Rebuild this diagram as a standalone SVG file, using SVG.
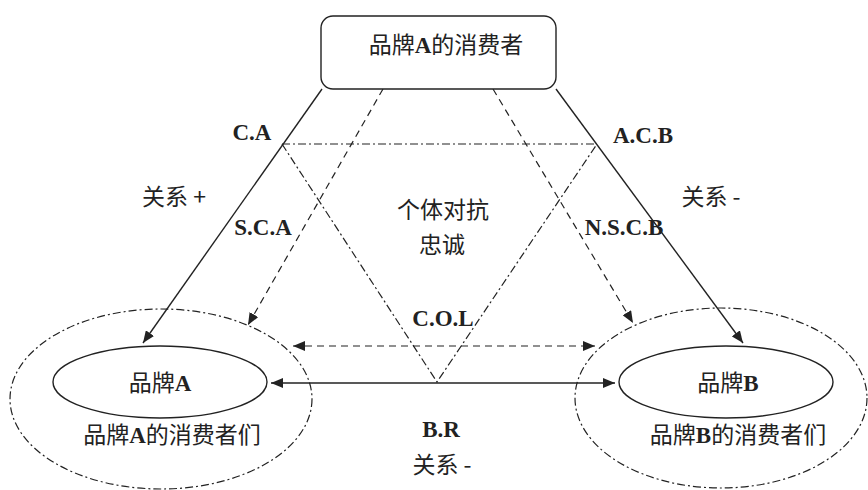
<svg xmlns="http://www.w3.org/2000/svg" width="868" height="490" viewBox="0 0 868 490">
<style>
text{font-family:"Liberation Serif","Noto Sans CJK SC",serif;font-size:23px;fill:#222}
.cn{font-family:"Noto Sans CJK SC","Liberation Serif",sans-serif;font-weight:normal}
.b{font-weight:bold;font-family:"Liberation Serif",serif}
.solid{stroke:#222;stroke-width:1.4;fill:none}
.dash{stroke:#222;stroke-width:1.2;fill:none;stroke-dasharray:7 5}
.dd{stroke:#222;stroke-width:1.2;fill:none;stroke-dasharray:8 3 2 3}
</style>
<defs>
<marker id="ah" viewBox="0 0 12 10" refX="12" refY="5" markerWidth="12" markerHeight="10" markerUnits="userSpaceOnUse" orient="auto-start-reverse">
<path d="M0,0 L12,5 L0,10 z" fill="#222"/>
</marker>
</defs>
<rect width="868" height="490" fill="#fff"/>
<g id="consumers-ring-A"><ellipse cx="161" cy="399" rx="151" ry="90" class="dd"/></g>
<g id="consumers-ring-B"><ellipse cx="721" cy="398" rx="146" ry="90" class="dd"/></g>
<g id="connectors">
<line x1="322" y1="89" x2="143" y2="343" class="solid" marker-end="url(#ah)"/>
<line x1="556" y1="89" x2="743" y2="343" class="solid" marker-end="url(#ah)"/>
<line x1="383" y1="89" x2="248" y2="325" class="dash" marker-end="url(#ah)"/>
<line x1="493" y1="89" x2="633" y2="323" class="dash" marker-end="url(#ah)"/>
<line x1="282" y1="144" x2="597" y2="144" class="dd"/>
<polyline points="282,144 437,382 597,144" class="dd"/>
<line x1="293" y1="346" x2="595" y2="346" class="dash" marker-start="url(#ah)" marker-end="url(#ah)"/>
<line x1="271" y1="383" x2="615" y2="383" class="solid" marker-start="url(#ah)" marker-end="url(#ah)"/>
</g>
<g id="top-node">
<rect x="321" y="16" width="235" height="73" rx="12" ry="12" fill="#fff" stroke="#222" stroke-width="1.4"/>
<text x="446" y="53" text-anchor="middle"><tspan class="cn">品牌</tspan><tspan class="b">A</tspan><tspan class="cn">的消费者</tspan></text>
</g>
<g id="brand-A">
<ellipse cx="160" cy="382" rx="107" ry="36" fill="#fff" stroke="#222" stroke-width="1.4"/>
<text x="160" y="391" text-anchor="middle"><tspan class="cn">品牌</tspan><tspan class="b">A</tspan></text>
<text x="172" y="443" text-anchor="middle"><tspan class="cn">品牌</tspan><tspan class="b">A</tspan><tspan class="cn">的消费者们</tspan></text>
</g>
<g id="brand-B">
<ellipse cx="726" cy="382" rx="107" ry="36" fill="#fff" stroke="#222" stroke-width="1.4"/>
<text x="728" y="391" text-anchor="middle"><tspan class="cn">品牌</tspan><tspan class="b">B</tspan></text>
<text x="738" y="443" text-anchor="middle"><tspan class="cn">品牌</tspan><tspan class="b">B</tspan><tspan class="cn">的消费者们</tspan></text>
</g>
<g id="labels">
<text x="252" y="140" text-anchor="middle" class="b">C.A</text>
<text x="643" y="143" text-anchor="middle" class="b">A.C.B</text>
<text x="263" y="235" text-anchor="middle" class="b">S.C.A</text>
<text x="624" y="235" text-anchor="middle" class="b">N.S.C.B</text>
<text x="443" y="326" text-anchor="middle" class="b">C.O.L</text>
<text x="441" y="437" text-anchor="middle" class="b">B.R</text>
<text x="443" y="218" text-anchor="middle" class="cn">个体对抗</text>
<text x="442" y="253" text-anchor="middle" class="cn">忠诚</text>
<text x="174" y="205" text-anchor="middle" class="cn">关系 +</text>
<text x="711" y="205" text-anchor="middle" class="cn">关系 -</text>
<text x="442" y="473" text-anchor="middle" class="cn">关系 -</text>
</g>
</svg>
